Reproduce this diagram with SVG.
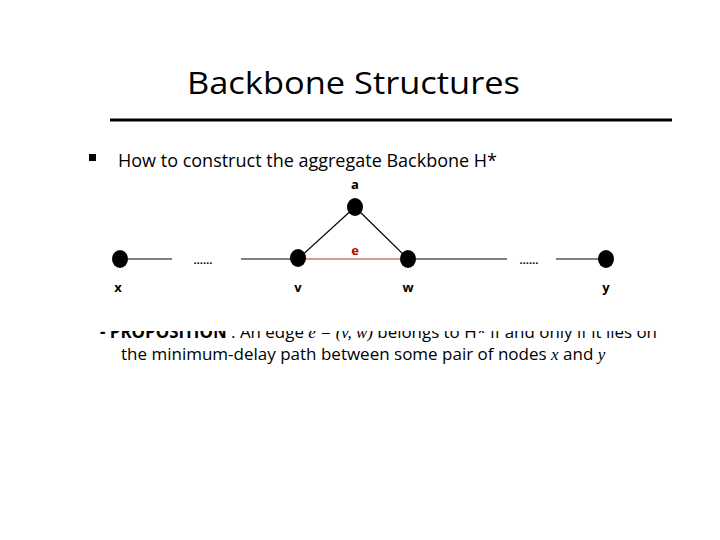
<svg xmlns="http://www.w3.org/2000/svg" width="720" height="540" viewBox="0 0 720 540">
<style>
text{font-family:"Open Sans","Liberation Sans",sans-serif;fill:#000}
.lbl{font-size:13px;font-weight:bold;text-anchor:middle}
.e{stroke:#000;stroke-width:1.2}
</style>
<defs><clipPath id="cp"><rect x="0" y="331" width="720" height="20"/></clipPath></defs>
<rect width="720" height="540" fill="#fff"/>
<text x="187" y="94" font-size="31" textLength="333" lengthAdjust="spacingAndGlyphs">Backbone Structures</text>
<line x1="110" y1="120" x2="672" y2="120" stroke="#000" stroke-width="3"/>
<rect x="89" y="154" width="7" height="7" fill="#000"/>
<text x="118" y="167" font-size="19" textLength="379" lengthAdjust="spacingAndGlyphs">How to construct the aggregate Backbone H*</text>
<g id="connectors">
<line class="e" x1="120" y1="259" x2="172" y2="259"/>
<line class="e" x1="241" y1="259" x2="298" y2="259"/>
<line x1="298" y1="259" x2="408" y2="259" stroke="#b03030" stroke-width="1"/>
<line class="e" x1="298" y1="259" x2="355" y2="207"/>
<line class="e" x1="355" y1="207" x2="408" y2="259"/>
<line class="e" x1="408" y1="259" x2="507" y2="259"/>
<line class="e" x1="556" y1="259" x2="606" y2="259"/>
<text x="203" y="264" font-size="11" font-weight="bold" text-anchor="middle">……</text>
<text x="529" y="264" font-size="11" font-weight="bold" text-anchor="middle">……</text>
<text x="355" y="255" class="lbl" style="fill:#c00000">e</text>
</g>
<g id="node-x"><ellipse cx="120" cy="259" rx="8" ry="9"/><text class="lbl" x="118" y="292">x</text></g>
<g id="node-v"><ellipse cx="298" cy="258" rx="8" ry="9"/><text class="lbl" x="298" y="292">v</text></g>
<g id="node-a"><ellipse cx="355" cy="207" rx="8" ry="9"/><text class="lbl" x="355" y="189">a</text></g>
<g id="node-w"><ellipse cx="408" cy="259" rx="8" ry="9"/><text class="lbl" x="408" y="292">w</text></g>
<g id="node-y"><ellipse cx="606" cy="259" rx="8" ry="9"/><text class="lbl" x="606" y="292">y</text></g>
<g clip-path="url(#cp)"><text x="100" y="338" font-size="17" textLength="557" lengthAdjust="spacingAndGlyphs"><tspan font-weight="bold">-  PROPOSITION</tspan> : An edge <tspan font-style="italic" font-family="Liberation Serif">e = (v,  w)</tspan> belongs to H* if and only if it lies on</text></g>
<text x="121" y="360" font-size="17">the minimum-delay path between some pair of nodes <tspan font-style="italic" font-family="Liberation Serif">x</tspan> and <tspan font-style="italic" font-family="Liberation Serif">y</tspan></text>
</svg>
